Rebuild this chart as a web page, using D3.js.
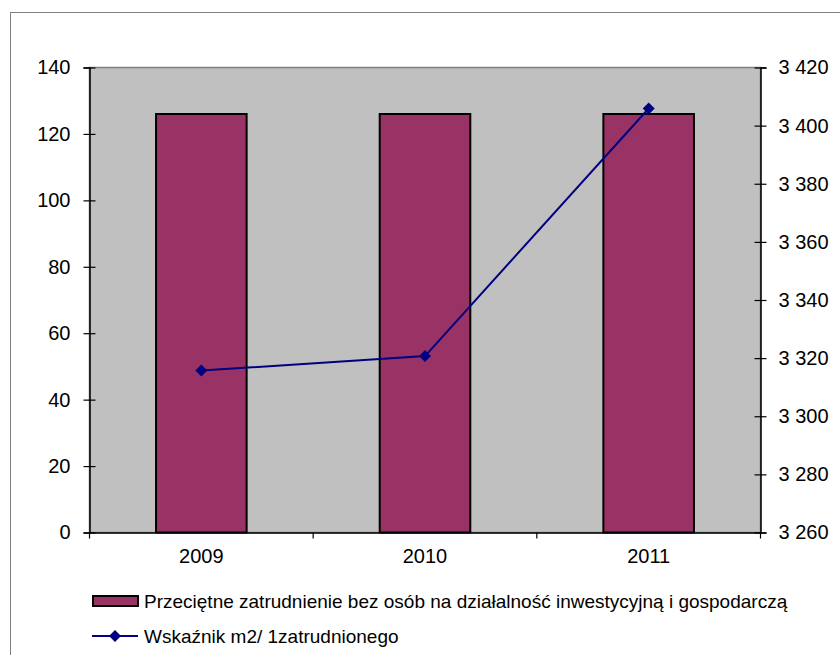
<!DOCTYPE html>
<html><head><meta charset="utf-8">
<script src="https://cdn.jsdelivr.net/npm/d3@7"></script>
<style>body{margin:0;background:#fff;} svg{display:block;font-family:"Liberation Sans",Arial,sans-serif;}</style>
</head><body>
<svg id="chart" width="840" height="655"></svg>
<script>
const categories = ["2009", "2010", "2011"];
const barValues = [126, 126, 126];
const lineValues = [3315.7, 3320.7, 3405.9];
const leftTicks = [0, 20, 40, 60, 80, 100, 120, 140];
const rightTicks = [3260, 3280, 3300, 3320, 3340, 3360, 3380, 3400, 3420];
const barName = "Przeciętne zatrudnienie bez osób na działalność inwestycyjną i gospodarczą";
const lineName = "Wskaźnik m2/ 1zatrudnionego";

const svg = d3.select("#chart");
const fs = 20;
const lfs = 19;
const plot = {l: 89.5, r: 760.5, t: 67.5, b: 532.5};

svg.append("rect").attr("x", 10.5).attr("y", 12.5).attr("width", 840).attr("height", 660)
  .attr("fill", "#fff").attr("stroke", "#808080").attr("stroke-width", 1);

const x = d3.scaleBand().domain(categories).range([plot.l, plot.r]).paddingInner(0).paddingOuter(0);
const yL = d3.scaleLinear().domain([0, 140]).range([plot.b, plot.t]);
const yR = d3.scaleLinear().domain([3260, 3420]).range([plot.b, plot.t]);

svg.append("rect").attr("x", plot.l).attr("y", plot.t).attr("width", plot.r - plot.l).attr("height", plot.b - plot.t)
  .attr("fill", "#c0c0c0").attr("stroke", "#808080").attr("stroke-width", 1.5);

const bw = x.bandwidth() * 0.405;
svg.selectAll("rect.bar").data(barValues).join("rect").attr("class", "bar")
  .attr("x", (d, i) => x(categories[i]) + x.bandwidth() / 2 - bw / 2)
  .attr("y", d => yL(d))
  .attr("width", bw)
  .attr("height", d => yL(0) - yL(d))
  .attr("fill", "#993366").attr("stroke", "#000").attr("stroke-width", 2);

// axes
const leftAxis = d3.axisLeft(yL).tickValues(leftTicks).tickSize(6).tickPadding(13);
const gL = svg.append("g").attr("transform", `translate(${plot.l},0)`).call(leftAxis);
const rightAxis = d3.axisRight(yR).tickValues(rightTicks).tickSize(6).tickPadding(12)
  .tickFormat(d => d3.format(",")(d).replace(",", " "));
const gR = svg.append("g").attr("transform", `translate(${plot.r},0)`).call(rightAxis);
const bottomAxis = d3.axisBottom(x).tickSize(0).tickPadding(16);
const gB = svg.append("g").attr("transform", `translate(0,${plot.b})`).call(bottomAxis);

[gL, gR, gB].forEach(g => {
  g.select(".domain").attr("stroke", "#000").attr("stroke-width", 1.5);
  g.selectAll("text").attr("font-size", fs).attr("fill", "#000").attr("font-family", "Liberation Sans, Arial, sans-serif");
  g.selectAll(".tick line").attr("stroke", "#000").attr("stroke-width", 1.2);
});
gL.selectAll(".tick line").attr("x1", 6).attr("x2", -6);
gR.selectAll(".tick line").attr("x1", -6).attr("x2", 6);
const bounds = [plot.l, ...categories.map(c => x(c) + x.bandwidth())];
svg.append("g").selectAll("line").data(bounds).join("line")
  .attr("x1", d => d).attr("x2", d => d).attr("y1", plot.b).attr("y2", plot.b + 6)
  .attr("stroke", "#000").attr("stroke-width", 1.2);

// line series
const line = d3.line().x((d, i) => x(categories[i]) + x.bandwidth() / 2).y(d => yR(d));
svg.append("path").datum(lineValues).attr("d", line).attr("fill", "none").attr("stroke", "#000080").attr("stroke-width", 2);
const diamond = "M0,-6L6,0L0,6L-6,0Z";
svg.selectAll("path.pt").data(lineValues).join("path").attr("class", "pt")
  .attr("transform", (d, i) => `translate(${x(categories[i]) + x.bandwidth() / 2},${yR(d)})`)
  .attr("d", diamond).attr("fill", "#000080");

// legend
const lg = svg.append("g");
lg.append("rect").attr("x", 93).attr("y", 596).attr("width", 45).attr("height", 10)
  .attr("fill", "#993366").attr("stroke", "#000").attr("stroke-width", 2);
lg.append("text").attr("x", 144).attr("y", 601).attr("dy", "0.35em").attr("font-size", lfs).text(barName);
lg.append("line").attr("x1", 92).attr("x2", 138).attr("y1", 636).attr("y2", 636).attr("stroke", "#000080").attr("stroke-width", 2);
lg.append("path").attr("transform", "translate(115,636)").attr("d", diamond).attr("fill", "#000080");
lg.append("text").attr("x", 144).attr("y", 636).attr("dy", "0.35em").attr("font-size", lfs).text(lineName);
</script>
</body></html>
